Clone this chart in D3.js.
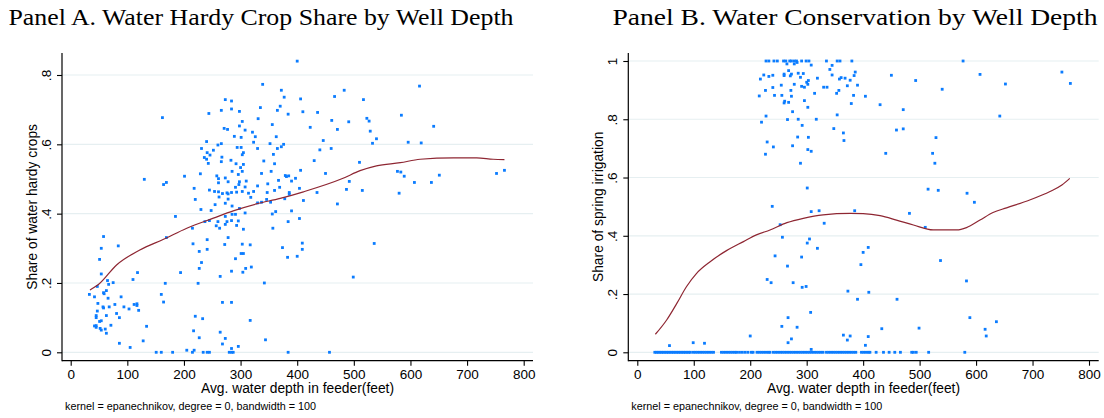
<!DOCTYPE html>
<html>
<head>
<meta charset="utf-8">
<script src="https://cdn.jsdelivr.net/npm/d3@7"></script>
<style>
  body { margin: 0; background: #fff; }
  text { font-family: "Liberation Sans", Arial, sans-serif; fill: #000; }
  .title { font-family: "Liberation Serif", "Times New Roman", serif; }
</style>
</head>
<body>
<div class="container"></div>
<script>
// ---- data ----
var xTicks = [0, 100, 200, 300, 400, 500, 600, 700, 800];
var yTicksA = [0, 0.2, 0.4, 0.6, 0.8];
var yLabelsA = ["0", ".2", ".4", ".6", ".8"];
var yTicksB = [0, 0.2, 0.4, 0.6, 0.8, 1];
var yLabelsB = ["0", ".2", ".4", ".6", ".8", "1"];

// panel A: avg depth (feet) and share of water hardy crops
var aDepth = [339,372,377,406,466,273,284,335,284,266,298,365,370,244,384,410,436,331,303,461,
  271,277,298,308,356,423,471,321,289,301,326,363,240,266,260,323,352,376,372,365,
  330,294,301,231,252,241,246,267,305,303,358,446,440,460,236,240,243,266,283,341,
  292,305,360,430,300,303,285,201,229,258,296,337,354,379,381,385,450,261,261,273,
  278,298,297,310,330,348,367,397,390,406,218,245,254,261,268,276,278,284,291,293,
  303,314,323,308,347,360,369,386,386,404,435,262,278,318,330,337,346,353,378,411,
  471,220,255,273,285,298,230,248,308,356,362,390,285,291,273,404,245,260,237,276,
  284,296,384,
  215,257,263,273,293,305,357,241,278,216,272,303,317,241,227,374,409,409,383,400,
  301,305,291,231,227,319,309,304,284,264,194,225,342,268,284,220,233,317,217,264,
  227,273,268,344,296,284,205,215,218,234,241,245,280,284,287,384,457,
  162,130,164,169,185,169,58,54,84,
  51,54,110,118,75,65,67,47,33,42,58,63,59,66,89,48,78,68,58,57,
  94,103,112,117,117,120,47,81,63,45,45,86,51,54,42,45,45,71,52,61,
  54,63,134,128,86,105,151,160,180,160,164,167,
  483,517,491,523,527,529,540,533,584,616,641,596,619,510,492,515,487,577,583,589,
  607,637,651,580,752,766,400,536,499];
var aShare = [.773,.756,.736,.731,.738,.729,.725,.706,.702,.698,.695,.698,.710,.689,.687,.694,.692,.674,.666,.669,
  .646,.643,.653,.641,.657,.649,.643,.635,.623,.620,.622,.622,.608,.602,.598,.606,.602,.600,.593,.588,
  .588,.591,.591,.588,.583,.576,.569,.563,.576,.570,.571,.611,.584,.588,.562,.557,.545,.550,.554,.552,
  .544,.542,.544,.553,.533,.522,.522,.508,.515,.509,.513,.516,.522,.510,.507,.509,.516,.501,.489,.503,
  .492,.492,.484,.494,.480,.486,.496,.502,.494,.525,.473,.468,.464,.463,.458,.460,.457,.461,.476,.462,
  .464,.459,.464,.477,.461,.467,.476,.461,.456,.473,.461,.448,.442,.447,.431,.433,.441,.433,.443,.438,
  .428,.441,.426,.430,.422,.415,.412,.409,.402,.399,.406,.408,.398,.398,.392,.386,.380,.377,.377,.377,
  .380,.379,.377,
  .358,.365,.358,.369,.366,.355,.358,.325,.331,.313,.311,.312,.310,.297,.291,.302,.315,.297,.274,.277,
  .285,.285,.270,.259,.242,.246,.242,.231,.234,.219,.230,.199,.200,.144,.144,.104,.097,.092,.062,.058,
  .042,.040,.024,.036,.017,.011,.006,0,.006,0,0,0,0,0,0,0,0,
  .677,.499,.484,.490,.392,.331,.334,.300,.307,
  .268,.226,.210,.230,.201,.207,.196,.190,.167,.160,.172,.178,.169,.156,.160,.141,.138,.131,.128,.131,
  .131,.125,.138,.140,.135,.121,.119,.112,.106,.106,.100,.100,.089,.091,.076,.072,.077,.078,.069,.067,
  .064,.055,.075,.033,.026,.014,0,0,0,.167,.145,.199,
  .756,.729,.665,.675,.667,.638,.616,.603,.684,.768,.652,.606,.604,.548,.493,.467,.470,.522,.520,.508,
  .490,.490,.511,.459,.516,.525,.840,.314,.217];

// panel A: local mean smooth
var aFitDepth = [34, 50, 81, 122, 164, 205, 252, 287, 328, 370, 411, 481, 511, 540, 582, 617, 676, 717, 746, 766];
var aFitShare = [.180, .197, .252, .295, .326, .358, .387, .408, .428, .444, .463, .502, .524, .538, .547, .557, .561, .561, .557, .556];

// panel B: avg depth (feet) and share of spring irrigation
var bDepth = [228,233,242,248,259,263,270,273,278,282,291,299,304,335,354,359,380,
  265,278,283,308,345,268,341,294,285,273,271,260,260,224,233,240,218,289,319,345,
  386,384,358,361,368,377,303,300,302,255,278,291,296,330,336,372,390,227,240,272,
  357,314,353,243,256,273,216,383,404,261,260,268,296,302,379,430,275,228,266,285,
  317,354,220,292,348,365,284,303,366,230,241,275,302,308,227,289,440,
  301,239,308,322,253,331,257,301,305,319,
  244,266,291,230,237,276,292,299,373,307,267,256,283,200,273,267,308,365,372,57,99,119,
  409,400,396,410,390,460,537,583,589,636,616,618,433,499,377,409,404,
  577,607,752,767,652,493,540,450,471,642,459,471,529,523,527,515,533,584,597,385,482,510];
var bSpring = [1,1,1,1,1,1,1,1,1,1,1,1,1,1,1,1,1,
  .990,.990,.995,.986,.985,.967,.971,.957,.958,.955,.949,.955,.950,.952,.947,.951,.938,.944,.941,.952,
  .962,.950,.938,.943,.941,.934,.933,.927,.920,.917,.920,.913,.910,.910,.910,.915,.917,.899,.909,.899,
  .899,.889,.889,.882,.882,.879,.880,.882,.879,.862,.856,.858,.864,.841,.854,.850,.826,.811,.799,.800,
  .800,.815,.790,.779,.768,.753,.739,.738,.727,.722,.705,.709,.696,.690,.680,.649,.683,
  .564,.501,.483,.486,.438,.443,.395,.375,.389,.357,
  .331,.296,.327,.250,.239,.239,.223,.226,.210,.137,.119,.089,.086,.056,.046,.033,.010,.059,.042,.023,.033,.031,
  .360,.343,.301,.206,.182,.182,.315,.245,.119,.105,.079,.056,.081,.083,.056,.054,.024,
  1,.954,.962,.923,.921,.933,.903,.951,.833,.811,.763,.767,.737,.683,.649,.560,.556,.546,.515,.486,.477,.429];
// panel B: feeders with no spring irrigation (share = 0)
var bZeroDepth = [31,34,37,40,43,46,49,52,55,58,61,64,67,70,73,76,79,82,85,88,91,94,
  99,103,107,111,115,119,123,127,131,135,149,153,157,161,165,169,173,176,181,186,191,196,
  202,205,212,216,220,224,228,232,235,241,245,249,253,257,261,265,269,273,277,281,285,289,293,
  297,301,305,309,313,317,321,325,329,335,339,343,347,351,355,359,363,367,371,375,379,383,387,
  397,401,405,409,412,423,436,446,456,466,486,489,494,516,580];

// panel B: local mean smooth
var bFitDepth = [32, 52, 70, 87, 105, 129, 158, 188, 211, 235, 265, 294, 329, 377, 400, 430, 459, 489, 524, 566, 583, 607, 630, 654, 695, 731, 752, 766];
var bFitSpring = [.062, .111, .168, .225, .271, .311, .349, .380, .403, .420, .445, .460, .472, .477, .476, .469, .454, .437, .420, .420, .428, .454, .480, .496, .523, .552, .574, .597];

var noteText = "kernel = epanechnikov, degree = 0, bandwidth = 100";

// ---- drawing ----
const WIDTH = 1104, HEIGHT = 418;
const DOT_COLOR = "#0b7cff", FIT_COLOR = "#8e2632", GRID_COLOR = "#e6eff1";

var svg = d3.select('.container').append('svg')
    .attr('width', WIDTH)
    .attr('height', HEIGHT)
    .style('background', '#fff');

var drawPanel = function (p) {
  var x = d3.scaleLinear().domain([0, 800]).range(p.xRange);
  var y = d3.scaleLinear().domain(p.yDomain).range(p.yRange);
  var g = svg.append('g');

  // grid
  g.selectAll('.grid').data(p.yTicks).enter().append('line')
      .attr('x1', p.left).attr('x2', p.right)
      .attr('y1', d => y(d)).attr('y2', d => y(d))
      .attr('stroke', GRID_COLOR).attr('stroke-width', 1.2);

  // points
  g.selectAll('.pt').data(p.points).enter().append('rect')
      .attr('x', d => x(d[0]) - 1.4)
      .attr('y', d => y(d[1]) - 1.4)
      .attr('width', 2.8).attr('height', 2.8)
      .attr('fill', DOT_COLOR);

  // smooth
  var line = d3.line().x(d => x(d[0])).y(d => y(d[1])).curve(d3.curveMonotoneX);
  g.append('path')
      .attr('d', line(d3.zip(p.fitX, p.fitY)))
      .attr('fill', 'none').attr('stroke', FIT_COLOR).attr('stroke-width', 1.2);

  // axes
  var xAxis = d3.axisBottom(x).tickValues(xTicks).tickSize(5).tickSizeOuter(0);
  var gx = g.append('g').attr('transform', 'translate(0,' + p.bottom + ')').call(xAxis);
  gx.select('.domain').remove();
  gx.selectAll('text').attr('y', 9).attr('font-size', 13.5).attr('font-family', '"Liberation Sans", Arial, sans-serif');
  gx.append('line').attr('x1', p.left).attr('x2', p.right).attr('stroke', '#000').attr('stroke-width', 1.2);

  var yAxis = d3.axisLeft(y).tickValues(p.yTicks)
      .tickFormat((d, i) => p.yLabels[i]).tickSize(5).tickSizeOuter(0);
  var gy = g.append('g').attr('transform', 'translate(' + p.left + ',0)').call(yAxis);
  gy.select('.domain').remove();
  gy.selectAll('text')
      .attr('transform', 'rotate(-90)')
      .attr('x', 0).attr('y', -16).attr('dy', '0.35em')
      .attr('text-anchor', 'middle')
      .attr('font-size', 13.5).attr('font-family', '"Liberation Sans", Arial, sans-serif');
  gy.append('line').attr('y1', p.top).attr('y2', p.bottom + 0.6).attr('stroke', '#000').attr('stroke-width', 1.2);
  g.selectAll('.tick line').attr('stroke', '#000').attr('stroke-width', 1.1);

  // labels
  var midX = (p.left + p.right) / 2, midY = (p.top + p.bottom) / 2;
  g.append('text').text(p.xLabel)
      .attr('x', midX).attr('y', 393).attr('text-anchor', 'middle').attr('font-size', 13.8);
  g.append('text').text(p.yLabel)
      .attr('transform', 'translate(' + (p.left - 30) + ',' + midY + ') rotate(-90)')
      .attr('text-anchor', 'middle').attr('dy', '0.35em').attr('font-size', 13.8);
  g.append('text').text(noteText)
      .attr('x', p.left + 3).attr('y', 409.5).attr('font-size', 10.2)
      .attr('textLength', 251).attr('lengthAdjust', 'spacingAndGlyphs');
  g.append('text').attr('class', 'title').text(p.title)
      .attr('x', p.titleX).attr('y', 25).attr('text-anchor', 'middle')
      .attr('font-size', 23).attr('textLength', p.titleLen).attr('lengthAdjust', 'spacingAndGlyphs');
};

drawPanel({
  title: "Panel A. Water Hardy Crop Share by Well Depth", titleX: 261, titleLen: 505,
  xLabel: "Avg. water depth in feeder(feet)", yLabel: "Share of water hardy crops",
  left: 62, right: 533, top: 53, bottom: 360.7,
  xRange: [70.7, 523.7], yDomain: [0, 0.8], yRange: [352.3, 75],
  yTicks: yTicksA, yLabels: yLabelsA,
  points: d3.zip(aDepth, aShare), fitX: aFitDepth, fitY: aFitShare
});

drawPanel({
  title: "Panel B. Water Conservation by Well Depth", titleX: 855, titleLen: 485,
  xLabel: "Avg. water depth in feeder(feet)", yLabel: "Share of spring irrigation",
  left: 628.3, right: 1098.7, top: 53, bottom: 360.7,
  xRange: [637.3, 1089], yDomain: [0, 1], yRange: [352.3, 61],
  yTicks: yTicksB, yLabels: yLabelsB,
  points: d3.zip(bDepth, bSpring).concat(bZeroDepth.map(d => [d, 0])),
  fitX: bFitDepth, fitY: bFitSpring
});
</script>
</body>
</html>
